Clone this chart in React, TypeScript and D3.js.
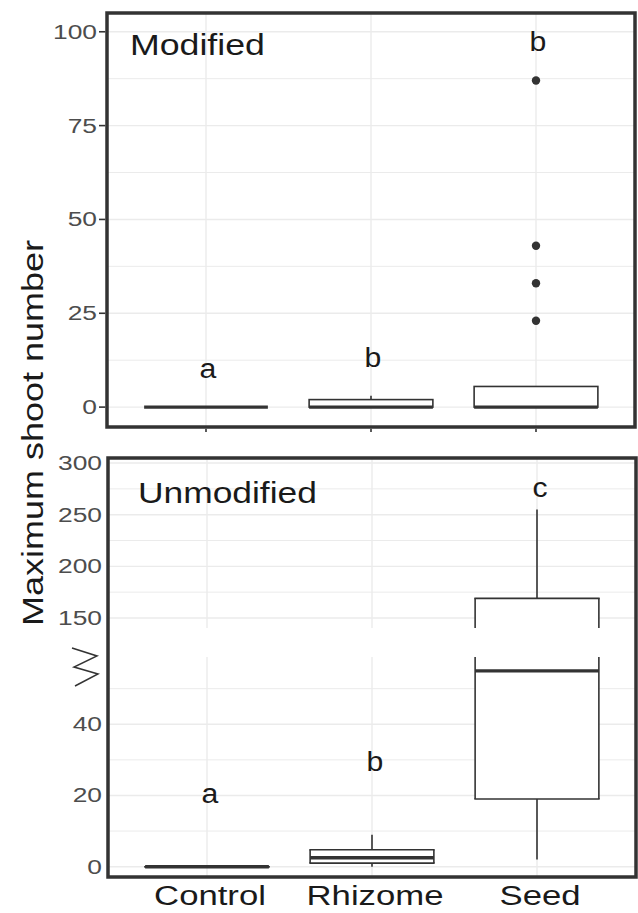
import React from 'react';
import * as d3 from 'd3';

const categories = ['Control', 'Rhizome', 'Seed'];

// Panel "Modified"
const modLow = [0, 0, 0];
const modQ1 = [0, 0, 0];
const modMedian = [0, 0, 0];
const modQ3 = [0, 2, 5.5];
const modHigh = [0, 3, 5.5];
const modOutliers: number[][] = [[], [], [23, 33, 43, 87]];
const modLetters = ['a', 'b', 'b'];
const modLetterY = [7.7, 10.7, 95];
const modTicks = [0, 25, 50, 75, 100];
const modMinor = [12.5, 37.5, 62.5, 87.5];

// Panel "Unmodified" (broken y axis)
const unLow = [0, 0, 2];
const unQ1 = [0, 1, 19];
const unMedian = [0, 2.5, 55];
const unQ3 = [0, 4.75, 169];
const unHigh = [0, 9, 255];
const unLetters = ['a', 'b', 'c'];
const unLetterY = [18, 27, 267];
const unTicksLow = [0, 20, 40];
const unMinorLow = [10, 30, 50];
const unTicksHigh = [150, 200, 250, 300];
const unMinorHigh = [175, 225, 275];

const FONT = '"Liberation Sans", Arial, Helvetica, sans-serif';
const DARK = '#333333';
const GRID = '#ebebeb';

function SText(props: {
  x: number; y: number; sx?: number; size: number; anchor?: string;
  fill?: string; rotate?: number; children: React.ReactNode;
}) {
  const { x, y, sx = 1, size, anchor = 'middle', fill = '#1a1a1a', rotate, children } = props;
  const tr = `translate(${x},${y})${rotate ? ` rotate(${rotate})` : ''} scale(${sx},1)`;
  return (
    <text transform={tr} textAnchor={anchor} fontSize={size} fontFamily={FONT} fill={fill}>
      {children}
    </text>
  );
}

export default function App() {
  // ---------- top panel ----------
  const T = { l: 107, r: 635, t: 13, b: 427 };
  const xT = d3.scalePoint<string>().domain(categories).range([T.l, T.r]).padding(0.6);
  const yT = d3.scaleLinear().domain([-5.3, 105]).range([T.b, T.t]);
  const bwT = xT.step() * 0.75;

  // ---------- bottom panel ----------
  const B = { l: 108, r: 636, t: 458, b: 877 };
  const xB = d3.scalePoint<string>().domain(categories).range([B.l, B.r]).padding(0.6);
  const yLow = d3.scaleLinear().domain([-2.9, 58.9]).range([B.b, 657]);
  const yHigh = d3.scaleLinear().domain([140.3, 304.9]).range([628, B.t]);
  const lowMax = yLow.domain()[1];
  const highMin = yHigh.domain()[0];
  const yB = (v: number) => (v <= lowMax ? yLow(v) : yHigh(v));
  const bwB = xB.step() * 0.75;

  const pieces = (v1: number, v2: number): [number, number][] => {
    const out: [number, number][] = [];
    if (v1 < lowMax) out.push([yLow(v1), yLow(Math.min(v2, lowMax))]);
    if (v2 > highMin) out.push([yHigh(Math.max(v1, highMin)), yHigh(v2)]);
    return out;
  };

  const tickSize = 20;
  const tickSx = 1.32;

  // zigzag break marker, placed just below the gap
  const gz = yLow.range()[1];
  const zig = d3.line()([
    [72, gz - 9], [97, gz - 1], [74, gz + 10], [98, gz + 17], [75, gz + 29],
  ]);

  return (
    <svg width={638} height={913} style={{ position: 'absolute', left: 0, top: 0, background: '#fff' }}>
      <rect x={0} y={0} width={638} height={913} fill="#fff" />

      {/* ===== TOP PANEL ===== */}
      <g>
        {modMinor.map((v) => (
          <line key={'tm' + v} x1={T.l} x2={T.r} y1={yT(v)} y2={yT(v)} stroke={GRID} strokeWidth={1} />
        ))}
        {modTicks.map((v) => (
          <line key={'tg' + v} x1={T.l} x2={T.r} y1={yT(v)} y2={yT(v)} stroke={GRID} strokeWidth={1.4} />
        ))}
        {categories.map((c) => (
          <line key={'tv' + c} x1={xT(c)} x2={xT(c)} y1={T.t} y2={T.b} stroke={GRID} strokeWidth={1.4} />
        ))}

        {categories.map((c, i) => {
          const x = xT(c) as number;
          return (
            <g key={'tb' + c}>
              {modHigh[i] > modQ3[i] && (
                <line x1={x} x2={x} y1={yT(modQ3[i])} y2={yT(modHigh[i])} stroke={DARK} strokeWidth={1.6} />
              )}
              {modLow[i] < modQ1[i] && (
                <line x1={x} x2={x} y1={yT(modQ1[i])} y2={yT(modLow[i])} stroke={DARK} strokeWidth={1.6} />
              )}
              <rect x={x - bwT / 2} width={bwT} y={yT(modQ3[i])} height={yT(modQ1[i]) - yT(modQ3[i])}
                fill="#fff" stroke={DARK} strokeWidth={1.6} />
              <line x1={x - bwT / 2} x2={x + bwT / 2} y1={yT(modMedian[i])} y2={yT(modMedian[i])}
                stroke={DARK} strokeWidth={3.4} />
              {modOutliers[i].map((v) => (
                <circle key={'o' + v} cx={x} cy={yT(v)} r={4.2} fill={DARK} />
              ))}
              <SText x={x + 2} y={yT(modLetterY[i])} size={27} sx={1.12}>{modLetters[i]}</SText>
            </g>
          );
        })}

        <rect x={T.l} y={T.t} width={T.r - T.l} height={T.b - T.t} fill="none" stroke={DARK} strokeWidth={3.5} />
        {categories.map((c) => (
          <line key={'tt' + c} x1={xT(c)} x2={xT(c)} y1={T.b + 1.7} y2={T.b + 5} stroke={DARK} strokeWidth={1.6} />
        ))}
        {modTicks.map((v) => (
          <g key={'tl' + v}>
            <line x1={T.l - 8} x2={T.l - 1.7} y1={yT(v)} y2={yT(v)} stroke={DARK} strokeWidth={1.6} />
            <SText x={T.l - 10} y={yT(v) + 7} size={tickSize} sx={tickSx} anchor="end" fill="#4d4d4d">{v}</SText>
          </g>
        ))}
        <SText x={130} y={55} size={30} sx={1.19} anchor="start">Modified</SText>
      </g>

      {/* ===== BOTTOM PANEL ===== */}
      <g>
        {unMinorHigh.map((v) => (
          <line key={'bm' + v} x1={B.l} x2={B.r} y1={yHigh(v)} y2={yHigh(v)} stroke={GRID} strokeWidth={1} />
        ))}
        {unMinorLow.map((v) => (
          <line key={'bml' + v} x1={B.l} x2={B.r} y1={yLow(v)} y2={yLow(v)} stroke={GRID} strokeWidth={1} />
        ))}
        {unTicksHigh.map((v) => (
          <line key={'bg' + v} x1={B.l} x2={B.r} y1={yHigh(v)} y2={yHigh(v)} stroke={GRID} strokeWidth={1.4} />
        ))}
        {unTicksLow.map((v) => (
          <line key={'bgl' + v} x1={B.l} x2={B.r} y1={yLow(v)} y2={yLow(v)} stroke={GRID} strokeWidth={1.4} />
        ))}
        {categories.map((c) => (
          <g key={'bv' + c}>
            <line x1={xB(c)} x2={xB(c)} y1={yHigh.range()[1]} y2={yHigh.range()[0]} stroke={GRID} strokeWidth={1.4} />
            <line x1={xB(c)} x2={xB(c)} y1={yLow.range()[1]} y2={yLow.range()[0]} stroke={GRID} strokeWidth={1.4} />
          </g>
        ))}

        {categories.map((c, i) => {
          const x = xB(c) as number;
          const xl = x - bwB / 2;
          const xr = x + bwB / 2;
          return (
            <g key={'bb' + c}>
              {pieces(unQ3[i], unHigh[i]).map((p, k) => (
                <line key={'wu' + k} x1={x} x2={x} y1={p[0]} y2={p[1]} stroke={DARK} strokeWidth={1.6} />
              ))}
              {pieces(unLow[i], unQ1[i]).map((p, k) => (
                <line key={'wl' + k} x1={x} x2={x} y1={p[0]} y2={p[1]} stroke={DARK} strokeWidth={1.6} />
              ))}
              {pieces(unQ1[i], unQ3[i]).map((p, k) => (
                <g key={'bx' + k}>
                  <rect x={xl} width={bwB} y={p[1]} height={p[0] - p[1]} fill="#fff" />
                  <line x1={xl} x2={xl} y1={p[0]} y2={p[1]} stroke={DARK} strokeWidth={1.6} />
                  <line x1={xr} x2={xr} y1={p[0]} y2={p[1]} stroke={DARK} strokeWidth={1.6} />
                </g>
              ))}
              <line x1={xl - 0.8} x2={xr + 0.8} y1={yB(unQ3[i])} y2={yB(unQ3[i])} stroke={DARK} strokeWidth={1.6} />
              <line x1={xl - 0.8} x2={xr + 0.8} y1={yB(unQ1[i])} y2={yB(unQ1[i])} stroke={DARK} strokeWidth={1.6} />
              <line x1={xl} x2={xr} y1={yB(unMedian[i])} y2={yB(unMedian[i])} stroke={DARK} strokeWidth={3.4} />
              <SText x={x + 3} y={yB(unLetterY[i])} size={27} sx={1.12}>{unLetters[i]}</SText>
            </g>
          );
        })}

        <rect x={B.l} y={B.t} width={B.r - B.l} height={B.b - B.t} fill="none" stroke={DARK} strokeWidth={3.5} />
        {unTicksHigh.map((v) => (
          <SText key={'bth' + v} x={B.l - 6} y={yHigh(v) + 7} size={tickSize} sx={tickSx} anchor="end" fill="#4d4d4d">{v}</SText>
        ))}
        {unTicksLow.map((v) => (
          <SText key={'btl' + v} x={B.l - 6} y={yLow(v) + 7} size={tickSize} sx={tickSx} anchor="end" fill="#4d4d4d">{v}</SText>
        ))}
        <path d={zig || ''} fill="none" stroke={DARK} strokeWidth={1.5} />
        <SText x={138} y={503} size={29} sx={1.22} anchor="start">Unmodified</SText>

        {categories.map((c) => (
          <SText key={'xl' + c} x={(xB(c) as number) + 3} y={905} size={28} sx={1.24}>{c}</SText>
        ))}
      </g>

      <SText x={43} y={433} size={30} sx={1.2} rotate={-90}>Maximum shoot number</SText>
    </svg>
  );
}
